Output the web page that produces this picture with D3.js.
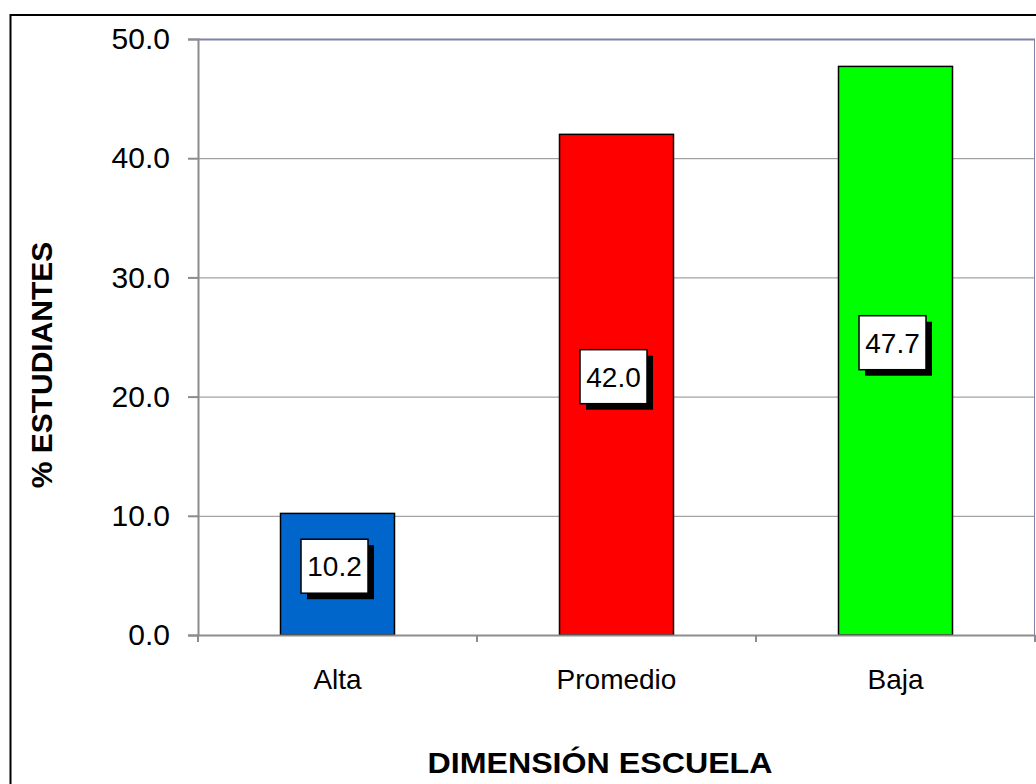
<!DOCTYPE html>
<html><head><meta charset="utf-8">
<script src="https://cdn.jsdelivr.net/npm/d3@7"></script>
<style>body{margin:0;background:#fff}svg{display:block}</style>
</head><body>
<script>
const categories = ["Alta", "Promedio", "Baja"];
const values = [10.2, 42.0, 47.7];
const colors = ["#0066CC", "#FF0000", "#00FF00"];
const yTicks = [0, 10, 20, 30, 40, 50];

const FONT = "Liberation Sans, Arial, sans-serif";
const W = 1036, H = 784;
const svg = d3.select("body").append("svg").attr("width", W).attr("height", H);
svg.append("rect").attr("width", W).attr("height", H).attr("fill", "#fff");
// outer chart border
svg.append("rect").attr("x", 10.5).attr("y", 15).attr("width", 1040).attr("height", 800)
  .attr("fill", "none").attr("stroke", "#000").attr("stroke-width", 2);

const L = 198, R = 1035, T = 39, B = 635;
const x = d3.scaleBand().domain(categories).range([L, R]).paddingInner(0).paddingOuter(0);
const y = d3.scaleLinear().domain([0, 50]).range([B, T]);

// gridlines
svg.append("g").selectAll("line").data(yTicks.filter(d => d > 0 && d < 50)).join("line")
  .attr("x1", L).attr("x2", R).attr("y1", d => y(d) + 0.5).attr("y2", d => y(d) + 0.5)
  .attr("stroke", "#8c8c8c").attr("stroke-width", 1);
// plot top/right border
svg.append("line").attr("x1", L).attr("x2", R).attr("y1", y(50) + 0.5).attr("y2", y(50) + 0.5)
  .attr("stroke", "#8080a8").attr("stroke-width", 2);
svg.append("line").attr("x1", R - 0.5).attr("x2", R - 0.5).attr("y1", T).attr("y2", B)
  .attr("stroke", "#8080a8").attr("stroke-width", 1);

// bars
const bw = 114;
svg.append("g").selectAll("rect").data(values).join("rect")
  .attr("x", (d, i) => x(categories[i]) + x.bandwidth() / 2 - bw / 2)
  .attr("y", d => y(d))
  .attr("width", bw)
  .attr("height", d => y(0) - y(d))
  .attr("fill", (d, i) => colors[i])
  .attr("stroke", "#000").attr("stroke-width", 1.5);

// y axis
const yAxis = d3.axisLeft(y).tickValues(yTicks).tickFormat(d3.format(".1f")).tickSize(10).tickPadding(18);
const ga = svg.append("g").attr("transform", `translate(${L},0)`).call(yAxis);
ga.select(".domain").attr("stroke", "#8c8c8c").attr("stroke-width", 2);
ga.selectAll(".tick line").attr("stroke", "#8c8c8c").attr("stroke-width", 2);
ga.selectAll(".tick text").attr("font-family", FONT).attr("font-size", 30).attr("fill", "#000");

// x axis
const xAxis = d3.axisBottom(x).tickSize(0).tickPadding(34);
const gx = svg.append("g").attr("transform", `translate(0,${B})`).call(xAxis);
gx.select(".domain").attr("stroke", "#8c8c8c").attr("stroke-width", 2);
gx.selectAll(".tick text").attr("font-family", FONT).attr("font-size", 28).attr("fill", "#000");
// category boundary ticks
const bounds = categories.map(c => x(c)).concat([R]);
svg.append("g").selectAll("line").data(bounds).join("line")
  .attr("x1", d => d).attr("x2", d => d).attr("y1", B).attr("y2", B + 7)
  .attr("stroke", "#8c8c8c").attr("stroke-width", 2);

// data labels
const bx = 67, bh = 54, sh = 6;
const lg = svg.append("g").selectAll("g").data(values).join("g")
  .attr("transform", (d, i) => `translate(${x(categories[i]) + x.bandwidth() / 2 - 3},${y(d / 2) - 8})`);
lg.append("rect").attr("x", -bx / 2 + sh).attr("y", -bh / 2 + sh).attr("width", bx).attr("height", bh).attr("fill", "#000");
lg.append("rect").attr("x", -bx / 2).attr("y", -bh / 2).attr("width", bx).attr("height", bh)
  .attr("fill", "#fff").attr("stroke", "#000").attr("stroke-width", 1.5);
lg.append("text").attr("text-anchor", "middle").attr("dy", "0.36em")
  .attr("font-family", FONT).attr("font-size", 28)
  .text(d => d3.format(".1f")(d));

// axis titles
svg.append("text").attr("x", 600).attr("y", 773).attr("text-anchor", "middle")
  .attr("font-family", FONT).attr("font-size", 30).attr("font-weight", "bold")
  .attr("textLength", 345).attr("lengthAdjust", "spacingAndGlyphs")
  .text("DIMENSIÓN ESCUELA");
svg.append("text").attr("transform", "translate(52,365) rotate(-90)").attr("text-anchor", "middle")
  .attr("font-family", FONT).attr("font-size", 30).attr("font-weight", "bold")
  .text("% ESTUDIANTES");
</script>
</body></html>
